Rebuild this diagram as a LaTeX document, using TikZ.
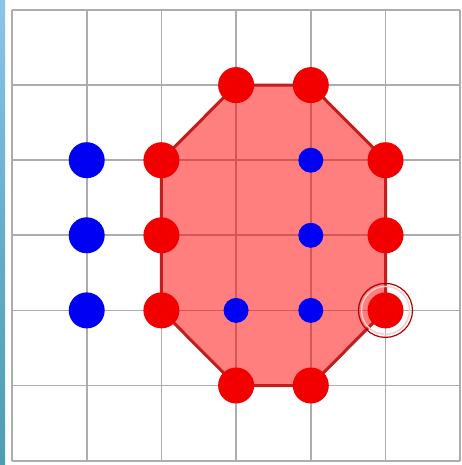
\documentclass[tikz,border=0pt]{standalone}
\definecolor{striptop}{RGB}{140,196,232}
\definecolor{stripbot}{RGB}{78,158,178}
\definecolor{hullline}{RGB}{195,30,30}
\begin{document}
\begin{tikzpicture}[x=1pt,y=-1pt,
  gridline/.style={draw=black!32,line width=1.8pt},
  bigred/.style={circle,fill=red!95!black,minimum size=36pt,inner sep=0pt},
  bigblue/.style={circle,fill=blue!95!black,minimum size=36pt,inner sep=0pt},
  smallblue/.style={circle,fill=blue!95!black,minimum size=25pt,inner sep=0pt},
  hullfill/.style={fill=red,fill opacity=0.5,draw=hullline,draw opacity=1,line width=3pt,line join=round},
  ringmark/.style={circle,draw=red!70!black,line width=1.2pt,minimum size=54pt,inner sep=0pt},
  ringinner/.style={circle,draw=white!80!red,line width=1.5pt,minimum size=48pt,inner sep=0pt}]
\useasboundingbox (0,0) rectangle (462,465);
\fill[white] (0,0) rectangle (462,465);
\shade[top color=striptop,bottom color=stripbot,middle color=stripbot!60!striptop] (0,0) rectangle (5,465);
% grid
\foreach \i in {0,...,6} {
  \draw[gridline] ({12+74.7*\i},10) -- ({12+74.7*\i},461);
  \draw[gridline] (12,{10+75.1*\i}) -- (460,{10+75.1*\i});
}
% coordinates
\foreach \i in {0,...,6} {\foreach \j in {0,...,6} {
  \coordinate (g\i\j) at ({12+74.7*\i},{10+75.1*\j});
}}
% hull
\draw[hullfill] (g31) -- (g41) -- (g52) -- (g54) -- (g45) -- (g35) -- (g24) -- (g22) -- cycle;
% ring
\node[ringmark] (ring) at (g54) {};
\node[ringinner] (ringin) at (g54) {};
% red points
\foreach \p in {31,41,22,52,23,53,24,54,35,45} {
  \node[bigred] (r\p) at (g\p) {};
}
% blue points
\foreach \p in {12,13,14} {
  \node[bigblue] (b\p) at (g\p) {};
}
\foreach \p in {42,43,34,44} {
  \node[smallblue] (s\p) at (g\p) {};
}
\end{tikzpicture}
\end{document}
